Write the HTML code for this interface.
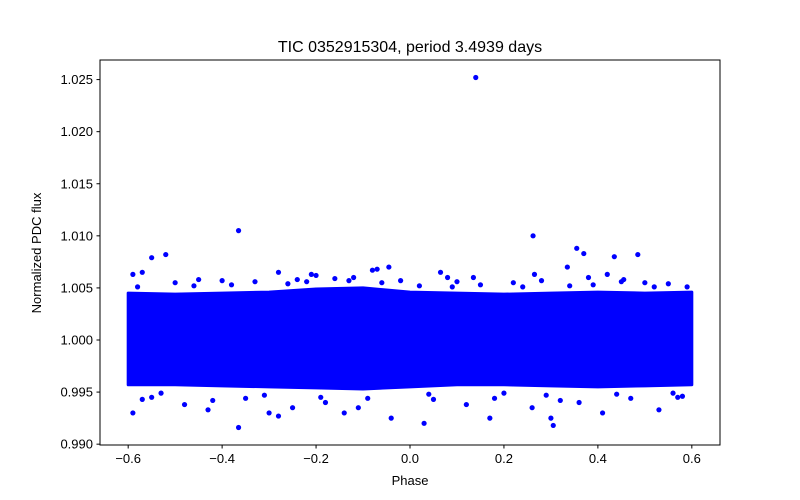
<!DOCTYPE html>
<html><head><meta charset="utf-8"><style>
body{margin:0;background:#fff;}
svg{display:block;font-family:"Liberation Sans","DejaVu Sans",sans-serif;}
</style></head><body>
<svg id="chart" width="800" height="500" viewBox="0 0 800 500">
<rect x="0" y="0" width="800" height="500" fill="#fff"/>
<g id="plot"></g>
<rect x="100" y="60" width="620" height="385" fill="none" stroke="#000" stroke-width="1"/>
<g id="xt"></g>
<g id="yt"></g>
<text x="410" y="52" font-size="16" text-anchor="middle">TIC 0352915304, period 3.4939 days</text>
<text x="410" y="485" font-size="13" text-anchor="middle">Phase</text>
<text x="0" y="0" font-size="13" text-anchor="middle" transform="translate(41,253) rotate(-90)">Normalized PDC flux</text>
</svg>
<script>
const xTicks=[-0.6,-0.4,-0.2,0.0,0.2,0.4,0.6];
const xTickLabels=["\u22120.6","\u22120.4","\u22120.2","0.0","0.2","0.4","0.6"];
const yTicks=[0.990,0.995,1.000,1.005,1.010,1.015,1.020,1.025];
const yTickLabels=["0.990","0.995","1.000","1.005","1.010","1.015","1.020","1.025"];
const bandPhase=[-0.6,-0.5,-0.4,-0.3,-0.2,-0.1,0.0,0.1,0.2,0.3,0.4,0.5,0.6];
const bandTop=[1.0045,1.0044,1.0045,1.0046,1.0049,1.0050,1.0046,1.0045,1.0044,1.0045,1.0046,1.0045,1.0046];
const bandBottom=[0.9957,0.9957,0.9956,0.9955,0.9954,0.9953,0.9955,0.9957,0.9957,0.9956,0.9955,0.9956,0.9957];
const ptPhase=[0.14,-0.365,0.262,-0.52,-0.55,0.355,0.37,0.435,0.485,0.335,-0.59,-0.57,-0.28,-0.21,-0.2,-0.12,-0.07,-0.045,-0.08,0.065,0.08,0.135,0.265,0.38,0.42,0.455,-0.365,0.03,-0.59,0.305,-0.04,0.17,0.53,0.41,-0.28,-0.3,-0.43,-0.14,-0.11,0.3,-0.25,0.12,0.26,-0.48,0.57,-0.57,0.36,-0.5,-0.45,-0.4,-0.33,-0.24,-0.16,-0.02,0.1,0.22,0.28,0.45,0.5,0.55,-0.55,-0.42,-0.35,-0.18,0.05,0.18,0.32,0.47,0.58,-0.58,-0.46,-0.38,-0.26,-0.22,-0.13,-0.06,0.02,0.09,0.15,0.24,0.34,0.39,0.52,0.59,-0.53,-0.31,-0.19,-0.09,0.04,0.2,0.29,0.44,0.56];
const ptFlux=[1.0252,1.0105,1.0100,1.0082,1.0079,1.0088,1.0083,1.0080,1.0082,1.0070,1.0063,1.0065,1.0065,1.0063,1.0062,1.0060,1.0068,1.0070,1.0067,1.0065,1.0060,1.0060,1.0063,1.0060,1.0063,1.0058,0.9916,0.9920,0.9930,0.9918,0.9925,0.9925,0.9933,0.9930,0.9927,0.9930,0.9933,0.9930,0.9935,0.9925,0.9935,0.9938,0.9935,0.9938,0.9945,0.9943,0.9940,1.0055,1.0058,1.0057,1.0056,1.0058,1.0059,1.0057,1.0056,1.0055,1.0057,1.0056,1.0055,1.0054,0.9945,0.9942,0.9944,0.9940,0.9943,0.9944,0.9942,0.9944,0.9946,1.0051,1.0052,1.0053,1.0054,1.0056,1.0057,1.0055,1.0052,1.0051,1.0053,1.0051,1.0052,1.0053,1.0051,1.0051,0.9949,0.9947,0.9945,0.9944,0.9948,0.9949,0.9947,0.9948,0.9949];
const X=v=>100+(v+0.66)/1.32*620;
const Y=v=>445-(v-0.98992)/(1.02688-0.98992)*385;
const NS="http://www.w3.org/2000/svg";
const plot=document.getElementById('plot');
function mk(t,a,p){const e=document.createElementNS(NS,t);for(const k in a)e.setAttribute(k,a[k]);p.appendChild(e);return e;}
let pts=[];
for(let i=0;i<bandPhase.length;i++)pts.push(X(bandPhase[i])+","+Y(bandTop[i]));
for(let i=bandPhase.length-1;i>=0;i--)pts.push(X(bandPhase[i])+","+Y(bandBottom[i]));
const band=mk('polygon',{points:pts.join(' '),fill:'#0000ff',stroke:'#0000ff','stroke-width':'3','stroke-linejoin':'round'},plot);


for(let i=0;i<ptPhase.length;i++){
 const c=mk('circle',{cx:X(ptPhase[i]),cy:Y(ptFlux[i]),r:2.6,fill:'#0000ff'},plot);
 
 
}
const xt=document.getElementById('xt');
xTicks.forEach((v,i)=>{
 const l=mk('line',{x1:X(v),x2:X(v),y1:445,y2:448.5,stroke:'#000'},xt);
 
 
 const t=mk('text',{x:X(v),y:463,'font-size':13,'text-anchor':'middle'},xt);
 t.textContent=xTickLabels[i];
 
 
});
const yt=document.getElementById('yt');
yTicks.forEach((v,i)=>{
 const l=mk('line',{x1:96.5,x2:100,y1:Y(v),y2:Y(v),stroke:'#000'},yt);
 
 
 const t=mk('text',{x:93,y:Y(v)+4.5,'font-size':13,'text-anchor':'end'},yt);
 t.textContent=yTickLabels[i];
 
 
});
</script>
</body></html>
